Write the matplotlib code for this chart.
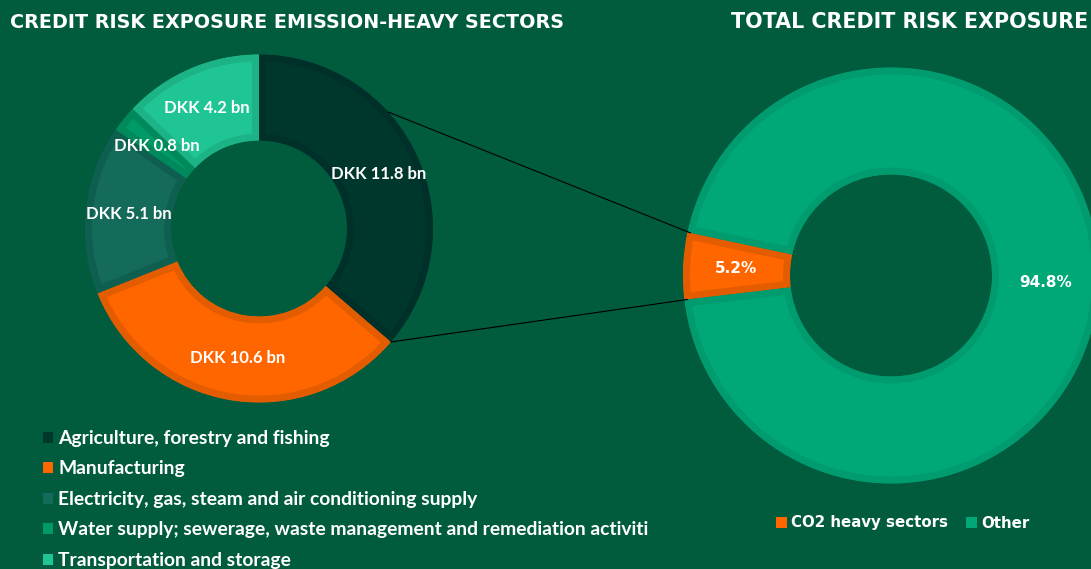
import matplotlib.pyplot as plt
from matplotlib.patches import Patch
import numpy as np

# data
sectors = ['Agriculture, forestry and fishing', 'Manufacturing',
           'Electricity, gas, steam and air conditioning supply',
           'Water supply; sewerage, waste management and remediation activiti',
           'Transportation and storage']
sector_dkk_bn = [11.8, 10.6, 5.1, 0.8, 4.2]
total_labels = ['CO2 heavy sectors', 'Other']
total_pct = [5.2, 94.8]

bg = '#015C3E'
sector_colors = ['#00372D', '#FF6600', '#146B5A', '#009A68', '#20C595']
sector_edges = ['#00302A', '#E35C00', '#0F5F50', '#008A5C', '#1CB386']
total_colors = ['#FF6600', '#00A878']
total_edges = ['#E35C00', '#009B6E']

fig = plt.figure(figsize=(10.91, 5.69), dpi=100, facecolor=bg)
ax = fig.add_axes([0, 0, 1, 1])


def inner_border(wedges, edges):
    # stroke clipped to the wedge itself -> border only on the inside
    for w, e in zip(wedges, edges):
        w.set_edgecolor(e)
        w.set_clip_on(True)
        w.set_clip_path(w.get_path(), w.get_transform())


# left donut
lc, lr = (259, 340.5), 174
total = sum(sector_dkk_bn)
w_left, _, t_left = ax.pie(sector_dkk_bn, colors=sector_colors, center=lc, radius=lr,
                           startangle=90, counterclock=False,
                           autopct=lambda p: 'DKK %.1f bn' % (p * total / 100),
                           pctdistance=0.755, wedgeprops=dict(width=86, linewidth=10),
                           textprops=dict(color='white', fontsize=12, fontweight='bold',
                                          family='Lato'), frame=True)

# right donut
rc, rr = (891, 293.5), 208
w_right, _, t_right = ax.pie(total_pct, colors=total_colors, center=rc, radius=rr,
                             startangle=168, autopct='%.1f%%', pctdistance=0.745,
                             wedgeprops=dict(width=107, linewidth=10),
                             textprops=dict(color='white', fontsize=11, fontweight='bold',
                                            family='DejaVu Sans'), frame=True)

ax.set_xlim(0, 1091)
ax.set_ylim(0, 569)
ax.set_aspect('equal')
ax.axis('off')

inner_border(w_left, sector_edges)
inner_border(w_right, total_edges)


def on_circle(c, r, deg):
    a = np.deg2rad(deg)
    return c[0] + r * np.cos(a), c[1] + r * np.sin(a)


# connector lines
p1 = on_circle(lc, lr, 42)
p2 = on_circle(lc, lr, w_left[0].theta1)
q1 = on_circle(rc, rr - 3, w_right[0].theta1)
q2 = on_circle(rc, rr - 3, w_right[0].theta2)
ax.plot([p1[0], q1[0]], [p1[1], q1[1]], color='black', lw=0.8, zorder=5)
ax.plot([p2[0], q2[0]], [p2[1], q2[1]], color='black', lw=0.8, zorder=5)

# titles
ax.text(10, 547, 'CREDIT RISK EXPOSURE EMISSION-HEAVY SECTORS', color='white',
        fontsize=13.8, fontweight='bold', family='DejaVu Sans', va='center', ha='left')
ax.text(1088, 547, 'TOTAL CREDIT RISK EXPOSURE', color='white', fontsize=14.9,
        fontweight='bold', family='DejaVu Sans', va='center', ha='right')

# legends
h_left = [Patch(facecolor=c) for c in sector_colors]
leg1 = ax.legend(h_left, sectors, loc='upper left', bbox_to_anchor=(43, 139),
                 bbox_transform=ax.transData, frameon=False, borderpad=0,
                 borderaxespad=0, handlelength=0.5, handleheight=0.5,
                 handletextpad=0.3, labelspacing=0.7,
                 prop=dict(family='Lato', weight='bold', size=13.85), labelcolor='white')
ax.add_artist(leg1)
h_right = [Patch(facecolor=c) for c in total_colors]
ax.legend(h_right, total_labels, loc='center', bbox_to_anchor=(903, 46),
          bbox_transform=ax.transData, frameon=False, ncol=2, borderpad=0,
          handlelength=0.7, handleheight=0.7, handletextpad=0.3, columnspacing=1.2,
          prop=dict(family='DejaVu Sans', weight='bold', size=10.8), labelcolor='white')

fig.savefig('out.png', dpi=100, facecolor=bg)
